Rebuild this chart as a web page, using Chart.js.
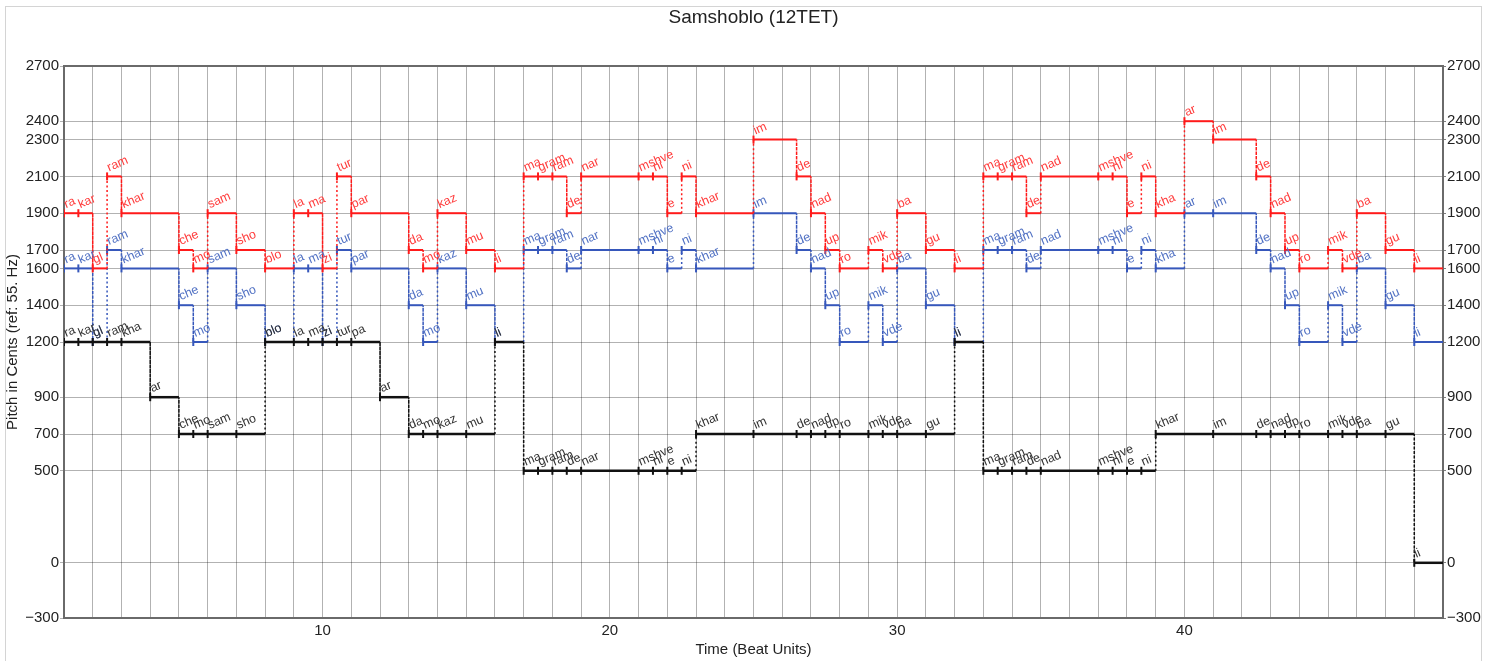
<!DOCTYPE html>
<html>
<head>
<meta charset="utf-8">
<script src="https://cdn.jsdelivr.net/npm/chart.js@4.4.0/dist/chart.umd.min.js"></script>
<style>
html, body { margin: 0; padding: 0; background: #fff; }
</style>
</head>
<body>
<canvas id="myChart" width="1498" height="661"></canvas>
<script>
var songEnd = 49;
var yTicks = [-300, 0, 500, 700, 900, 1200, 1400, 1600, 1700, 1900, 2100, 2300, 2400, 2700];

// the two upper voices share rhythm and words
var upperStart = [1, 1.5, 2, 2.5, 3, 5, 5.5, 6, 7, 8, 9, 9.5, 10, 10.5, 11, 13, 13.5, 14, 15, 16,
    17, 17.5, 18, 18.5, 19, 21, 21.5, 22, 22.5, 23, 25, 26.5, 27, 27.5, 28, 29, 29.5, 30, 31, 32,
    33, 33.5, 34, 34.5, 35, 37, 37.5, 38, 38.5, 39, 40, 41, 42.5, 43, 43.5, 44, 45, 45.5, 46, 47, 48];
var upperSyl = ['ra', 'kar', 'gl', 'ram', 'khar', 'che', 'mo', 'sam', 'sho', 'blo', 'la', 'ma', 'zi', 'tur', 'par',
    'da', 'mo', 'kaz', 'mu', 'li', 'ma', 'gram', 'ram', 'de', 'nar', 'mshve', 'ni', 'e', 'ni', 'khar',
    'im', 'de', 'nad', 'up', 'ro', 'mik', 'vde', 'ba', 'gu', 'li', 'ma', 'gram', 'ram', 'de', 'nad',
    'mshve', 'ni', 'e', 'ni', 'kha', 'ar', 'im', 'de', 'nad', 'up', 'ro', 'mik', 'vde', 'ba', 'gu', 'li'];
var redCents = [1900, 1900, 1600, 2100, 1900, 1700, 1600, 1900, 1700, 1600, 1900, 1900, 1600, 2100, 1900,
    1700, 1600, 1900, 1700, 1600, 2100, 2100, 2100, 1900, 2100, 2100, 2100, 1900, 2100, 1900,
    2300, 2100, 1900, 1700, 1600, 1700, 1600, 1900, 1700, 1600, 2100, 2100, 2100, 1900, 2100,
    2100, 2100, 1900, 2100, 1900, 2400, 2300, 2100, 1900, 1700, 1600, 1700, 1600, 1900, 1700, 1600];
var blueCents = [1600, 1600, 1200, 1700, 1600, 1400, 1200, 1600, 1400, 1200, 1600, 1600, 1200, 1700, 1600,
    1400, 1200, 1600, 1400, 1200, 1700, 1700, 1700, 1600, 1700, 1700, 1700, 1600, 1700, 1600,
    1900, 1700, 1600, 1400, 1200, 1400, 1200, 1600, 1400, 1200, 1700, 1700, 1700, 1600, 1700,
    1700, 1700, 1600, 1700, 1600, 1900, 1900, 1700, 1600, 1400, 1200, 1400, 1200, 1600, 1400, 1200];

// bass voice
var bassStart = [1, 1.5, 2, 2.5, 3, 4, 5, 5.5, 6, 7, 8, 9, 9.5, 10, 10.5, 11, 12, 13, 13.5, 14,
    15, 16, 17, 17.5, 18, 18.5, 19, 21, 21.5, 22, 22.5, 23, 25, 26.5, 27, 27.5, 28, 29, 29.5, 30,
    31, 32, 33, 33.5, 34, 34.5, 35, 37, 37.5, 38, 38.5, 39, 41, 42.5, 43, 43.5, 44, 45, 45.5, 46, 47, 48];
var bassSyl = ['ra', 'kar', 'gl', 'ram', 'kha', 'ar', 'che', 'mo', 'sam', 'sho', 'blo', 'la', 'ma', 'zi', 'tur',
    'pa', 'ar', 'da', 'mo', 'kaz', 'mu', 'li', 'ma', 'gram', 'ram', 'de', 'nar', 'mshve', 'ni', 'e',
    'ni', 'khar', 'im', 'de', 'nad', 'up', 'ro', 'mik', 'vde', 'ba', 'gu', 'li', 'ma', 'gram', 'ram',
    'de', 'nad', 'mshve', 'ni', 'e', 'ni', 'khar', 'im', 'de', 'nad', 'up', 'ro', 'mik', 'vde', 'ba', 'gu', 'li'];
var bassCents = [1200, 1200, 1200, 1200, 1200, 900, 700, 700, 700, 700, 1200, 1200, 1200, 1200, 1200,
    1200, 900, 700, 700, 700, 700, 1200, 500, 500, 500, 500, 500, 500, 500, 500,
    500, 700, 700, 700, 700, 700, 700, 700, 700, 700, 700, 1200, 500, 500, 500,
    500, 500, 500, 500, 500, 500, 700, 700, 700, 700, 700, 700, 700, 700, 700, 700, 0];

// each note -> start point and end point, neighbours joined by a vertical step
function voicePoints(starts, cents) {
    var pts = [];
    for (var i = 0; i < starts.length; i++) {
        var end = i + 1 < starts.length ? starts[i + 1] : songEnd;
        pts.push({ x: starts[i], y: cents[i] });
        pts.push({ x: end, y: cents[i] });
    }
    return pts;
}

function voice(name, starts, cents, syl, color, labelColor, order, width) {
    return {
        label: name,
        data: voicePoints(starts, cents),
        syllables: syl,
        labelColor: labelColor,
        order: order,
        showLine: true,
        borderColor: color,
        borderWidth: width,
        pointStyle: 'line',
        rotation: 90,
        pointRadius: function (c) { return c.dataIndex % 2 === 0 ? 4 : 0; },
        pointBorderWidth: 2,
        pointBorderColor: color,
        pointBackgroundColor: color,
        segment: {
            borderDash: function (c) { return c.p0.parsed.y !== c.p1.parsed.y ? [2, 2.5] : undefined; },
            borderWidth: function (c) { return c.p0.parsed.y !== c.p1.parsed.y ? 1.5 : width; }
        }
    };
}

function centsLabel(v) {
    return v < 0 ? '\u2212' + Math.abs(v) : String(v);
}

var sylLabels = {
    id: 'sylLabels',
    afterDatasetsDraw: function (chart) {
        var ctx = chart.ctx;
        var xs = chart.scales.x, ys = chart.scales.y;
        ctx.save();
        ctx.font = '12.5px "Liberation Sans", Arial, sans-serif';
        ctx.textAlign = 'left';
        ctx.textBaseline = 'alphabetic';
        chart.data.datasets.slice().reverse().forEach(function (ds) {
            ctx.fillStyle = ds.labelColor;
            ds.syllables.forEach(function (s, i) {
                var p = ds.data[i * 2];
                ctx.save();
                ctx.translate(xs.getPixelForValue(p.x) + 2, ys.getPixelForValue(p.y) - 5);
                ctx.rotate(-0.4);
                ctx.fillText(s, 0, 0);
                ctx.restore();
            });
        });
        ctx.restore();
    }
};

var frames = {
    id: 'frames',
    beforeDraw: function (chart) {
        var ctx = chart.ctx;
        ctx.save();
        ctx.fillStyle = '#fff';
        ctx.fillRect(0, 0, chart.width, chart.height);
        ctx.strokeStyle = '#d4d4d4';
        ctx.lineWidth = 1;
        ctx.strokeRect(5.5, 6.5, 1476, 700);
        ctx.restore();
    },
    beforeDatasetsDraw: function (chart) {
        var a = chart.chartArea, ctx = chart.ctx;
        ctx.save();
        ctx.strokeStyle = '#6a6a6a';
        ctx.lineWidth = 2;
        ctx.strokeRect(a.left, a.top, a.right - a.left, a.bottom - a.top);
        ctx.restore();
    }
};

Chart.defaults.font.family = '"Liberation Sans", Arial, sans-serif';
Chart.defaults.color = '#222';

var ctx = document.getElementById('myChart').getContext('2d');
var chart = new Chart(ctx, {
    type: 'scatter',
    data: {
        datasets: [
            voice('top', upperStart, redCents, upperSyl, '#ff1a1a', '#ff3c3c', 0, 2),
            voice('bass', bassStart, bassCents, bassSyl, '#111111', '#333333', 1, 2.5),
            voice('middle', upperStart, blueCents, upperSyl, '#3657bb', '#5272c4', 2, 2)
        ]
    },
    options: {
        responsive: false,
        animation: false,
        events: [],
        layout: { padding: 0 },
        plugins: {
            legend: { display: false },
            tooltip: { enabled: false },
            title: {
                display: true,
                text: 'Samshoblo (12TET)',
                fullSize: false,
                font: { size: 19, weight: 'normal' },
                color: '#222',
                padding: { top: 6, bottom: 37.2 }
            }
        },
        scales: {
            x: {
                type: 'linear',
                min: 1,
                max: songEnd,
                afterFit: function (s) { s.height = 43; },
                border: { display: false },
                grid: { color: 'rgba(0,0,0,0.3)', lineWidth: 1, drawTicks: false },
                ticks: {
                    stepSize: 1,
                    autoSkip: false,
                    maxRotation: 0,
                    padding: 4,
                    font: { size: 15 },
                    callback: function (v) { return v % 10 === 0 ? String(v) : ''; }
                },
                title: { display: true, text: 'Time (Beat Units)', font: { size: 15 }, padding: { top: 4, bottom: 2 } }
            },
            y: {
                position: 'left',
                min: -300,
                max: 2700,
                afterBuildTicks: function (s) { s.ticks = yTicks.map(function (v) { return { value: v }; }); },
                afterFit: function (s) { s.width = 64; },
                border: { display: false },
                grid: { color: 'rgba(0,0,0,0.3)', lineWidth: 1, tickLength: 4 },
                ticks: { padding: 1, font: { size: 15 }, callback: centsLabel },
                title: { display: true, text: 'Pitch in Cents (ref: 55. Hz)', font: { size: 15 }, padding: { top: 4, bottom: 0 } }
            },
            y2: {
                position: 'right',
                min: -300,
                max: 2700,
                afterBuildTicks: function (s) { s.ticks = yTicks.map(function (v) { return { value: v }; }); },
                afterFit: function (s) { s.width = 55; },
                border: { display: false },
                grid: { drawOnChartArea: false, color: 'rgba(0,0,0,0.5)', tickLength: 3 },
                ticks: { padding: 1, font: { size: 15 }, callback: centsLabel }
            }
        }
    },
    plugins: [frames, sylLabels]
});
</script>
</body>
</html>
